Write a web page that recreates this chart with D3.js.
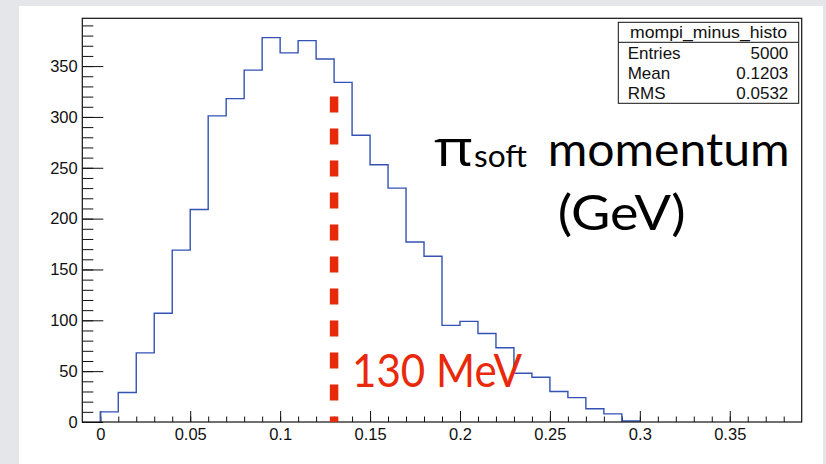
<!DOCTYPE html>
<html>
<head>
<meta charset="utf-8">
<script src="https://cdn.jsdelivr.net/npm/d3@7"></script>
<style>
  html, body { margin: 0; padding: 0; background: #e4e6e9; }
  svg { display: block; }
</style>
</head>
<body>
<svg id="chart" width="826" height="464"></svg>
<script>
// Histogram of soft-pion momentum: 0.01 GeV bins starting at 0
const binWidth = 0.01;
const binStart = 0;
const counts = [10, 29, 68, 107, 169, 209, 301, 318, 346, 378,
                363, 375, 357, 334, 282, 253, 230, 177, 163, 95,
                99, 87, 73, 48, 44, 30, 24, 13, 8, 1];

const xMajorTicks = [0, 0.05, 0.1, 0.15, 0.2, 0.25, 0.3, 0.35];
const xMinorTicks = d3.range(0, 39).map(i => +(i * 0.01).toFixed(2));
const yMajorTicks = [0, 50, 100, 150, 200, 250, 300, 350];
const yMinorTicks = d3.range(0, 40).map(i => i * 10);

const statsTitle = "mompi_minus_histo";
const statsRows = [["Entries", "5000"], ["Mean", "0.1203"], ["RMS", "0.0532"]];

const cutValue = 0.13;       // GeV
const cutTop = 320;          // counts, top of the marker line
const cutLabel = "130 MeV";

const xDomain = [-0.01, 0.39];
const yDomain = [0, 397];

const svg = d3.select("#chart");

// slide backdrop and white panel
svg.append("rect").attr("width", 826).attr("height", 464).attr("fill", "#e4e6e9");
svg.append("rect").attr("x", 19).attr("y", 6).attr("width", 804).attr("height", 460).attr("fill", "#ffffff");

const frame = { left: 82.3, right: 801.7, top: 18.3, bottom: 422 };
const x = d3.scaleLinear().domain(xDomain).range([frame.left, frame.right]);
const y = d3.scaleLinear().domain(yDomain).range([frame.bottom, frame.top]);

const axisFont = "'Liberation Sans', Arial, Helvetica, sans-serif";

// minor ticks
svg.append("g").attr("transform", `translate(0,${frame.bottom})`)
  .call(d3.axisBottom(x).tickValues(xMinorTicks).tickSize(-5.5).tickFormat(""))
  .call(g => g.select(".domain").remove());
svg.append("g").attr("transform", `translate(${frame.left},0)`)
  .call(d3.axisLeft(y).tickValues(yMinorTicks).tickSize(-11).tickFormat(""))
  .call(g => g.select(".domain").remove());

// major ticks and labels
const fmtX = d => d === 0 ? "0" : d3.format("")(d);
const xAxis = svg.append("g").attr("transform", `translate(0,${frame.bottom})`)
  .call(d3.axisBottom(x).tickValues(xMajorTicks).tickSize(-11).tickPadding(6).tickFormat(fmtX));
xAxis.select(".domain").remove();
xAxis.selectAll("text").attr("font-size", 16.5).attr("font-family", axisFont).attr("fill", "#111");

const yAxis = svg.append("g").attr("transform", `translate(${frame.left},0)`)
  .call(d3.axisLeft(y).tickValues(yMajorTicks).tickSize(-21).tickPadding(4.6));
yAxis.select(".domain").remove();
yAxis.selectAll("text").attr("font-size", 16.5).attr("font-family", axisFont).attr("fill", "#111");

svg.selectAll(".tick line").attr("stroke", "#111").attr("stroke-width", 1);

// histogram outline
const pts = [[binStart, 0]];
counts.forEach((c, i) => pts.push([binStart + i * binWidth, c]));
pts.push([binStart + counts.length * binWidth, 0]);
const line = d3.line().x(d => x(d[0])).y(d => y(d[1])).curve(d3.curveStepAfter);
svg.append("path").attr("d", line(pts))
  .attr("fill", "none").attr("stroke", "#3352b4").attr("stroke-width", 1.4);

// frame
svg.append("rect")
  .attr("x", frame.left).attr("y", frame.top)
  .attr("width", frame.right - frame.left).attr("height", frame.bottom - frame.top)
  .attr("fill", "none").attr("stroke", "#111").attr("stroke-width", 1.2);

// statistics box
const sb = { x: 618.3, y: 22.3, w: 180.4, h: 81 };
const stats = svg.append("g").attr("font-family", axisFont).attr("font-size", 17).attr("fill", "#111");
stats.append("rect").attr("x", sb.x).attr("y", sb.y).attr("width", sb.w).attr("height", sb.h)
  .attr("fill", "#fff").attr("stroke", "#111").attr("stroke-width", 1);
stats.append("line").attr("x1", sb.x).attr("x2", sb.x + sb.w).attr("y1", sb.y + 20).attr("y2", sb.y + 20)
  .attr("stroke", "#111").attr("stroke-width", 1);
stats.append("text").attr("x", sb.x + sb.w / 2).attr("y", sb.y + 16).attr("text-anchor", "middle")
  .attr("textLength", 157).attr("lengthAdjust", "spacingAndGlyphs").text(statsTitle);
statsRows.forEach((r, i) => {
  const by = sb.y + 37 + i * 19.9;
  stats.append("text").attr("x", sb.x + 9.4).attr("y", by).text(r[0]);
  stats.append("text").attr("x", sb.x + 170).attr("y", by).attr("text-anchor", "end").text(r[1]);
});

// cut marker
const red = "#e8290b";
svg.append("line")
  .attr("x1", x(cutValue)).attr("x2", x(cutValue))
  .attr("y1", y(cutTop)).attr("y2", y(0))
  .attr("stroke", red).attr("stroke-width", 8.5).attr("stroke-dasharray", "16 16");

const slideFont = "Lato, 'Open Sans', sans-serif";
svg.append("text").attr("x", 352).attr("y", 386.7)
  .attr("font-family", slideFont).attr("font-size", 46).attr("fill", red)
  .attr("textLength", 170).attr("lengthAdjust", "spacingAndGlyphs")
  .text(cutLabel);

// axis title
const title = svg.append("g").attr("font-family", slideFont).attr("fill", "#000");
title.append("text").attr("x", 434).attr("y", 166).attr("font-size", 50)
  .attr("font-family", "'Open Sans', 'DejaVu Sans', sans-serif")
  .attr("textLength", 39).attr("lengthAdjust", "spacingAndGlyphs").text("π");
title.append("text").attr("x", 474).attr("y", 167).attr("font-size", 31)
  .attr("textLength", 53).attr("lengthAdjust", "spacingAndGlyphs").text("soft");
title.append("text").attr("x", 547.7).attr("y", 166).attr("font-size", 46)
  .attr("textLength", 242).attr("lengthAdjust", "spacingAndGlyphs").text("momentum");
title.append("text").attr("x", 557.7).attr("y", 230).attr("font-size", 49)
  .attr("textLength", 128).attr("lengthAdjust", "spacingAndGlyphs").text("(GeV)");
</script>
</body>
</html>
